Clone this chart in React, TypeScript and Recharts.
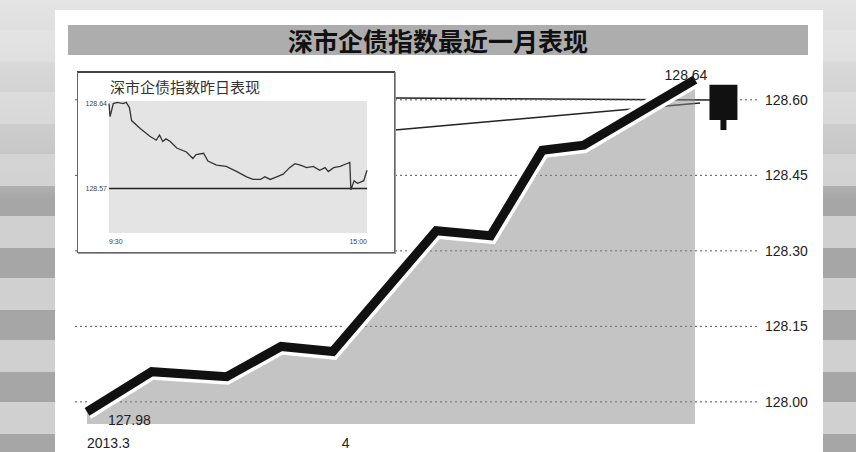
import {
  ComposedChart, LineChart, Area, Line, XAxis, YAxis, CartesianGrid,
  ReferenceArea, ReferenceLine
} from 'recharts';

const W = 856;
const H = 452;

// 深市企债指数 daily closes over the last month (x = trading-day offset)
const days = [0, 2.5, 5.4, 7.5, 9.5, 13.5, 15.6, 17.6, 19.2, 23.5];
const closes = [127.98, 128.06, 128.05, 128.11, 128.10, 128.34, 128.33, 128.50, 128.51, 128.64];
const yTicks = [128.0, 128.15, 128.3, 128.45, 128.6];
const monthTicks = [0, 10];
const monthLabels = ['2013.3', '4'];

// yesterday's candle: open, high, low, close
const candleDay = 24.6;
const candleOHLC = [128.63, 128.63, 128.54, 128.56];

// intraday line for the small chart (minutes since open)
const minutes = [0, 1, 4, 8, 13, 16, 19, 21, 29, 38, 44, 47, 50, 53, 57, 63, 72, 78, 81, 88,
  92, 100, 109, 119, 128, 134, 141, 145, 150, 156, 162, 168, 173, 178, 184, 190, 196, 201, 204, 209,
  215, 221, 224, 225, 228, 231, 234, 237, 240];
const intraday = [128.640, 128.630, 128.640, 128.641, 128.640, 128.641, 128.637, 128.627, 128.621, 128.615,
  128.612, 128.616, 128.611, 128.613, 128.611, 128.606, 128.603, 128.598, 128.601, 128.602,
  128.596, 128.593, 128.592, 128.588, 128.584, 128.582, 128.582, 128.584, 128.582, 128.584,
  128.586, 128.591, 128.594, 128.593, 128.591, 128.592, 128.589, 128.591, 128.588, 128.591,
  128.592, 128.594, 128.595, 128.574, 128.581, 128.579, 128.580, 128.581, 128.589];
const baseLevel = 128.575;
const intradayTicks = [0, 240];
const intradayLabels = ['9:30', '15:00'];
const intradayYTicks = [128.575, 128.64];

const mainData = days.map((d, i) => ({ d, v: closes[i] }));
const intraData = minutes.map((m, i) => ({ m, v: intraday[i] }));

const NUM_FONT = '"Liberation Sans", Arial, sans-serif';
const CJK_FONT = '"Noto Sans CJK SC", sans-serif';
const CANDLE_HALF = 0.54;

const EndLabel = (props: any) => {
  const { x, y, index, value } = props;
  if (index === 0) {
    return (
      <text x={x + 21} y={y + 13} fontSize={14} fontFamily={NUM_FONT} fill="#222">
        {Number(value).toFixed(2)}
      </text>
    );
  }
  if (index === closes.length - 1) {
    return (
      <text x={x - 9} y={y} textAnchor="middle" fontSize={14} fontFamily={NUM_FONT} fill="#222">
        {Number(value).toFixed(2)}
      </text>
    );
  }
  return null;
};

const PriceTick = (props: any) => {
  const { x, y, payload } = props;
  return (
    <text x={x} y={y} dy={5} fontSize={14} fontFamily={NUM_FONT} fill="#222">
      {Number(payload.value).toFixed(2)}
    </text>
  );
};

const MonthTick = (props: any) => {
  const { x, y, index } = props;
  return (
    <text x={x} y={y + 22} textAnchor={index === 0 ? 'start' : 'middle'}
      fontSize={14} fontFamily={NUM_FONT} fill="#222">
      {monthLabels[index]}
    </text>
  );
};

const TimeTick = (props: any) => {
  const { x, y, index } = props;
  return (
    <text x={x} y={y + 9} textAnchor={index === 0 ? 'start' : 'end'}
      fontSize={7} fontFamily={NUM_FONT} fill="#444">
      {intradayLabels[index]}
    </text>
  );
};

const stripes =
  'linear-gradient(180deg, rgba(232,232,232,0.95) 0px, rgba(215,215,215,0.7) 150px, rgba(0,0,0,0) 200px),' +
  'repeating-linear-gradient(180deg, #a6a6a6 0px, #a6a6a6 30px, #d0d0d0 30px, #d0d0d0 62px)';

export default function App() {
  const [open, high, low, close] = candleOHLC;

  return (
    <div style={{ position: 'relative', width: W, height: H, overflow: 'hidden', background: stripes }}>
      <style>{'body{margin:0}'}</style>

      {/* white panel and title bar */}
      <div style={{ position: 'absolute', left: 55, top: 10, width: 768, height: 442, background: '#fff' }} />
      <div style={{
        position: 'absolute', left: 68, top: 25, width: 740, height: 30, background: '#adadad',
        textAlign: 'center', lineHeight: '30px', fontFamily: CJK_FONT, fontWeight: 700,
        fontSize: 25, color: '#111'
      }}>
        深市企债指数最近一月表现
      </div>

      {/* connectors from the small chart to the candle */}
      <svg width={W} height={H} style={{ position: 'absolute', left: 0, top: 0 }}>
        <line x1={395} y1={98} x2={712} y2={100} stroke="#222" strokeWidth={1.5} />
        <line x1={395} y1={130} x2={700} y2={103} stroke="#222" strokeWidth={1.5} />
      </svg>

      <ComposedChart width={W} height={H} data={mainData}
        margin={{ top: 48, right: 0, bottom: 0, left: 75 }}
        style={{ position: 'absolute', left: 0, top: 0 }}>
        <CartesianGrid vertical={false} horizontalValues={yTicks} stroke="#555" strokeDasharray="2 3" />
        <XAxis dataKey="d" type="number" domain={[-0.464, 26.013]} ticks={monthTicks}
          height={28} axisLine={false} tickLine={false} tickSize={0} tickMargin={2}
          interval={0} tick={<MonthTick />} allowDataOverflow />
        <YAxis orientation="right" domain={[127.956, 128.703]} ticks={yTicks} width={96}
          axisLine={false} tickLine={false} tickSize={0} tickMargin={5}
          interval={0} tick={<PriceTick />} allowDataOverflow />
        <Area dataKey="v" type="linear" stroke="none" fill="#8a8a8a" fillOpacity={0.5}
          isAnimationActive={false} />
        <Line dataKey="v" type="linear" stroke="#fff" strokeWidth={16} dot={false}
          activeDot={false} isAnimationActive={false} />
        <Line dataKey="v" type="linear" stroke="#111" strokeWidth={9} dot={false}
          activeDot={false} isAnimationActive={false} label={EndLabel} />
        <ReferenceArea x1={candleDay - CANDLE_HALF} x2={candleDay + CANDLE_HALF}
          y1={Math.min(open, close)} y2={Math.max(open, close)} fill="#111" fillOpacity={1} stroke="none" />
        <ReferenceLine segment={[{ x: candleDay, y: low }, { x: candleDay, y: Math.min(open, close) }]}
          stroke="#111" strokeWidth={6} />
        <ReferenceLine segment={[{ x: candleDay, y: Math.max(open, close) }, { x: candleDay, y: high }]}
          stroke="#111" strokeWidth={6} />
      </ComposedChart>

      {/* small intraday chart */}
      <div style={{
        position: 'absolute', left: 77, top: 71, width: 318, height: 182, background: '#fff',
        border: '1px solid #666', borderTop: '2px solid #444', boxSizing: 'border-box',
        boxShadow: '1px 1px 0 #999'
      }}>
        <div style={{
          position: 'absolute', left: 32, top: 5, fontFamily: CJK_FONT, fontSize: 15,
          color: '#333', lineHeight: '18px'
        }}>
          深市企债指数昨日表现
        </div>
        <LineChart width={316} height={179} data={intraData}
          margin={{ top: 28, right: 0, bottom: 0, left: 0 }}
          style={{ position: 'absolute', left: 0, top: 0 }}>
          <CartesianGrid horizontal={false} vertical={false} fill="#e4e4e4" />
          <XAxis dataKey="m" type="number" domain={[0, 240]} ticks={intradayTicks} height={19}
            axisLine={false} tickLine={false} tickSize={0} interval={0} tick={<TimeTick />} />
          <YAxis yAxisId="l" domain={[128.541, 128.642]} ticks={intradayYTicks} width={31}
            axisLine={false} tickLine={false} tickSize={0} tickMargin={2} interval={0}
            tick={{ fontSize: 7, fill: '#444', fontFamily: NUM_FONT }}
            tickFormatter={(v: number) => v.toFixed(2)} />
          <YAxis yAxisId="r" orientation="right" domain={[128.541, 128.642]} ticks={intradayYTicks}
            width={27} axisLine={false} tickLine={false} tickSize={0} tickMargin={2} interval={0}
            tick={{ fontSize: 7, fill: '#444', fontFamily: NUM_FONT }}
            tickFormatter={(v: number) => ((v / intraday[0] - 1) * 100).toFixed(2) + '%'} />
          <ReferenceLine yAxisId="l" y={baseLevel} stroke="#222" strokeWidth={1.5} />
          <Line yAxisId="l" dataKey="v" type="linear" stroke="#333" strokeWidth={1.3} dot={false}
            activeDot={false} isAnimationActive={false} />
        </LineChart>
      </div>
    </div>
  );
}
